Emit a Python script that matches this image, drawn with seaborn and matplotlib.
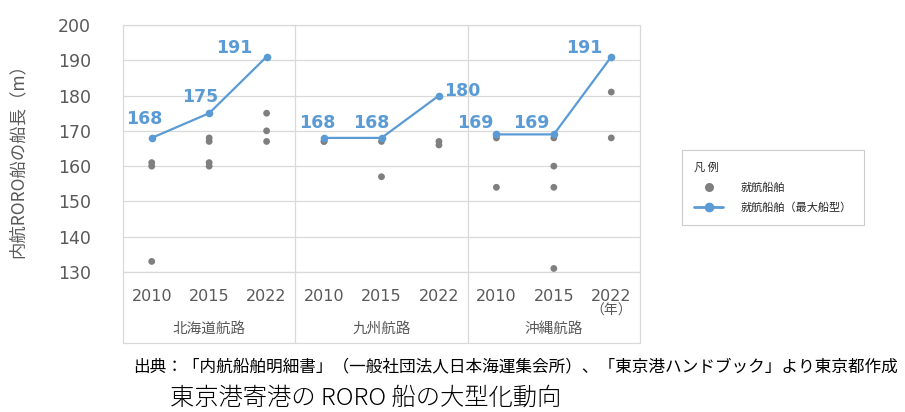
"""
Tokyo port RORO ship length trend (per route, per year)
"""

# --- Imports ---
import numpy as np
import pandas as pd
import seaborn as sns
import matplotlib.pyplot as plt
from matplotlib.lines import Line2D
import matplotlib.transforms as mtransforms

# --- Data ---
routes = ['北海道航路', '九州航路', '沖縄航路']
years = ['2010', '2015', '2022']

# ships in service, lengths [m], one list per year
hokkaido_ships = [[161, 160, 133], [168, 167, 161, 160], [175, 170, 167]]
kyushu_ships = [[167, 167], [167, 157], [167, 166]]
okinawa_ships = [[168, 154], [168, 160, 154, 131], [181, 168]]

# largest ship per year
hokkaido_max = [168, 175, 191]
kyushu_max = [168, 168, 180]
okinawa_max = [169, 169, 191]

y_ticks = [130, 140, 150, 160, 170, 180, 190, 200]

# label offsets (pixels) for the max-ship value labels
label_offsets = [(-7, 19), (-9, 16), (-32, 9),
                 (-7, 15), (-10, 15), (23, 5),
                 (-21, 11), (-23, 11), (-27, 9)]

# --- Build tables ---
ship_rows, max_rows = [], []
all_ships = [hokkaido_ships, kyushu_ships, okinawa_ships]
all_max = [hokkaido_max, kyushu_max, okinawa_max]
for r, route in enumerate(routes):
    for y, year in enumerate(years):
        pos = r * len(years) + y
        for v in all_ships[r][y]:
            ship_rows.append({'route': route, 'year': year, 'pos': pos, 'length': v})
        max_rows.append({'route': route, 'year': year, 'pos': pos, 'length': all_max[r][y]})
ships_df = pd.DataFrame(ship_rows)
max_df = pd.DataFrame(max_rows)

# --- Style ---
sns.set_style('white')
plt.rcParams['font.family'] = ['DejaVu Sans', 'Noto Sans CJK JP']
blue = '#5b9bd5'
gray_pt = '#7f7f7f'
txt_gray = '#595959'
line_gray = '#d9d9d9'
jp = ['Noto Sans CJK JP', 'DejaVu Sans']

fig = plt.figure(figsize=(9.05, 4.12), dpi=100)
ax = fig.add_axes([123 / 905, 1 - 272 / 412, 517 / 905, 247 / 412])

# gray ships
sns.scatterplot(data=ships_df, x='pos', y='length', color=gray_pt, s=24,
                edgecolor='none', ax=ax, zorder=3, legend=False)

# max ships line per route
sns.lineplot(data=max_df, x='pos', y='length', units='route', estimator=None,
             color=blue, marker='o', markersize=5.5, markeredgewidth=0,
             linewidth=1.6, ax=ax, zorder=4, legend=False)

for i, row in max_df.iterrows():
    dx, dy = label_offsets[i]
    ax.annotate(f"{row['length']}", (row['pos'], row['length']),
                xytext=(dx, dy), textcoords='offset pixels',
                ha='center', va='center', color=blue, fontsize=12.5,
                fontweight='bold', zorder=5)

# axes limits / ticks
ax.set_xlim(-0.5, len(routes) * len(years) - 0.5)
ax.set_ylim(130, 200)
ax.set_yticks(y_ticks)
ax.set_yticklabels([str(t) for t in y_ticks], fontsize=12.5, color=txt_gray)
ax.set_xticks(range(len(routes) * len(years)))
ax.set_xticklabels(years * len(routes), fontsize=11.5, color=txt_gray)
ax.tick_params(axis='y', length=0, pad=23)
ax.tick_params(axis='x', length=0, pad=12)
ax.set_xlabel('')
ax.set_ylabel('')
ax.yaxis.grid(True, color=line_gray, linewidth=0.9)
ax.axhline(130, color=line_gray, linewidth=0.9, clip_on=False, zorder=1)
ax.set_axisbelow(True)
for s in ax.spines.values():
    s.set_visible(False)

# outer frame and route separators (extend below into label area)
bottom = -(343 - 272) / 247
trans = mtransforms.blended_transform_factory(ax.transData, ax.transAxes)
for xs in [-0.5, 2.5, 5.5, 8.5]:
    ax.plot([xs, xs], [bottom, 1], transform=trans, color=line_gray,
            lw=0.9, clip_on=False, zorder=1)
for yy in [bottom, 1]:
    ax.plot([-0.5, 8.5], [yy, yy], transform=trans, color=line_gray,
            lw=0.9, clip_on=False, zorder=1)

# route labels
route_y = -(329 - 272) / 247
for r, route in enumerate(routes):
    ax.text(r * 3 + 1, route_y, route, transform=trans, ha='center',
            va='center', fontsize=10.5, color=txt_gray, family=jp)
ax.text(8, -(311 - 272) / 247, '（年）', transform=trans, ha='center',
        va='center', fontsize=10, color=txt_gray, family=jp)

# y label
fig.text(18 / 905, 1 - 157 / 412, '内航RORO船の船長（m）', rotation=90,
         ha='center', va='center', fontsize=12.5, color=txt_gray, family=jp)

# legend
handles = [
    Line2D([], [], color=gray_pt, marker='o', linestyle='none', markersize=6.5,
           markeredgewidth=0),
    Line2D([], [], color=blue, marker='o', linestyle='-', markersize=7,
           markeredgewidth=0, linewidth=2),
]
leg = fig.legend(handles, ['就航船舶', '就航船舶（最大船型）'], title='凡 例',
                 loc='upper left', bbox_to_anchor=(682 / 905, 1 - 150 / 412),
                 borderaxespad=0, frameon=True, fancybox=False,
                 edgecolor='#bfbfbf',
                 prop={'family': 'Noto Sans CJK JP', 'size': 8},
                 title_fontproperties={'family': 'Noto Sans CJK JP', 'size': 8},
                 alignment='left', handlelength=2.6, handletextpad=1.6,
                 borderpad=1.1, labelspacing=0.85)
leg.get_frame().set_linewidth(0.8)

# source and caption
fig.text(133 / 905, 1 - 368 / 412,
         '出典：「内航船舶明細書」（一般社団法人日本海運集会所）、「東京港ハンドブック」より東京都作成',
         ha='left', va='center', fontsize=12, color='black', family=jp)
fig.text(170 / 905, 1 - 398 / 412, '東京港寄港の RORO 船の大型化動向',
         ha='left', va='center', fontsize=17.5, fontweight='light',
         color='black', family=jp)

fig.savefig('out.png', dpi=100)
